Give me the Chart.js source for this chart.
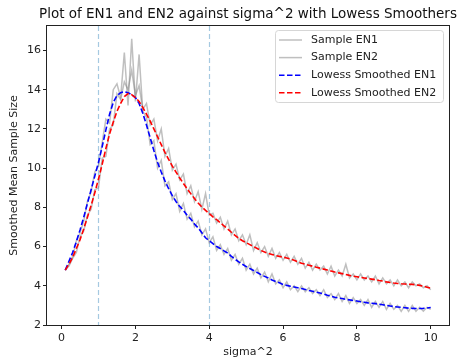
<!DOCTYPE html>
<html>
<head>
<meta charset="utf-8">
<script src="https://cdn.jsdelivr.net/npm/chart.js@4.4.1/dist/chart.umd.min.js"></script>
<style>
  html, body { margin: 0; padding: 0; background: #fff; }
  #wrap { width: 457px; height: 359px; }
</style>
</head>
<body>
<div id="wrap"><canvas id="graf"></canvas></div>
<script>
// sigma^2 grid
const sigmaSq = [0.1,0.2,0.3,0.4,0.5,0.6,0.7,0.8,0.9,1.0,
  1.1,1.2,1.3,1.4,1.5,1.6,1.7,1.8,1.9,2.0,
  2.1,2.2,2.3,2.4,2.5,2.6,2.7,2.8,2.9,3.0,
  3.1,3.2,3.3,3.4,3.5,3.6,3.7,3.8,3.9,4.0,
  4.1,4.2,4.3,4.4,4.5,4.6,4.7,4.8,4.9,5.0,
  5.1,5.2,5.3,5.4,5.5,5.6,5.7,5.8,5.9,6.0,
  6.1,6.2,6.3,6.4,6.5,6.6,6.7,6.8,6.9,7.0,
  7.1,7.2,7.3,7.4,7.5,7.6,7.7,7.8,7.9,8.0,
  8.1,8.2,8.3,8.4,8.5,8.6,8.7,8.8,8.9,9.0,
  9.1,9.2,9.3,9.4,9.5,9.6,9.7,9.8,9.9,10.0]

const sampleEN1 = [4.8,5.1,5.5,6.3,6.7,7.3,8.3,8.8,9.8,10.1,
  11.3,12.5,12.3,14.0,14.3,13.6,15.9,13.2,16.6,13.4,
  15.8,12.9,12.6,11.2,11.4,10.0,10.4,9.1,9.3,8.4,
  8.7,7.8,8.2,7.4,7.7,7.0,7.3,6.6,6.9,6.2,
  6.5,5.8,6.1,5.6,5.9,5.3,5.6,5.1,5.4,4.8,
  5.1,4.6,4.9,4.4,4.7,4.2,4.6,4.1,4.3,3.9,
  4.2,3.8,4.0,3.7,4.0,3.7,3.9,3.6,3.8,3.5,
  3.8,3.4,3.6,3.3,3.6,3.2,3.5,3.1,3.4,3.1,
  3.3,3.0,3.3,2.9,3.2,2.9,3.2,2.8,3.1,2.8,
  3.0,2.7,3.0,2.7,3.0,2.7,2.9,2.7,2.9,2.8]

const sampleEN2 = [4.8,5.0,5.4,5.7,6.5,6.8,7.6,7.9,8.9,9.0,
  10.5,10.6,12.0,12.2,13.8,13.5,14.4,14.0,15.0,13.7,
  14.2,13.0,13.3,12.2,12.5,11.4,12.0,10.6,11.0,9.9,
  10.2,9.4,9.7,8.7,9.1,8.3,8.8,7.9,8.7,7.6,
  7.7,7.2,7.5,6.9,7.3,6.6,6.9,6.3,6.6,6.1,
  6.6,5.8,6.2,5.7,6.0,5.5,5.9,5.4,5.7,5.3,
  5.6,5.2,5.5,5.1,5.4,4.9,5.2,4.8,5.1,4.8,
  5.0,4.6,5.0,4.5,4.8,4.5,5.1,4.4,4.6,4.3,
  4.6,4.3,4.5,4.2,4.5,4.1,4.4,4.1,4.3,4.0,
  4.3,4.0,4.2,3.9,4.2,4.0,4.1,3.9,4.0,3.8]

const lowessEN1 = [4.8,5.25,5.7,6.25,6.85,7.5,8.2,8.9,9.6,10.3,
  11.1,11.95,12.75,13.35,13.7,13.85,13.9,13.85,13.75,13.6,
  13.3,12.8,12.2,11.55,10.9,10.3,9.8,9.35,8.95,8.6,
  8.3,8.05,7.85,7.6,7.4,7.15,6.95,6.7,6.45,6.3,
  6.15,6.0,5.9,5.78,5.67,5.5,5.35,5.22,5.1,4.98,
  4.88,4.78,4.68,4.57,4.48,4.4,4.3,4.22,4.15,4.07,
  4.02,3.98,3.94,3.9,3.86,3.81,3.76,3.72,3.68,3.63,
  3.58,3.52,3.47,3.42,3.38,3.35,3.31,3.28,3.25,3.22,
  3.19,3.16,3.13,3.11,3.09,3.06,3.03,3.0,2.97,2.94,
  2.92,2.9,2.88,2.86,2.85,2.84,2.84,2.85,2.87,2.89]

const lowessEN2 = [4.8,5.1,5.45,5.9,6.35,6.9,7.5,8.1,8.75,9.45,
  10.2,11.0,11.75,12.35,12.9,13.3,13.65,13.8,13.75,13.6,
  13.4,13.1,12.75,12.4,12.0,11.6,11.2,10.8,10.45,10.1,
  9.8,9.5,9.22,8.95,8.7,8.45,8.22,8.02,7.85,7.68,
  7.52,7.37,7.22,7.05,6.9,6.73,6.57,6.42,6.3,6.2,
  6.1,6.0,5.9,5.8,5.72,5.65,5.6,5.54,5.5,5.46,
  5.42,5.36,5.3,5.22,5.15,5.1,5.05,5.0,4.95,4.9,
  4.85,4.8,4.75,4.7,4.66,4.62,4.58,4.53,4.49,4.46,
  4.43,4.4,4.37,4.34,4.31,4.27,4.24,4.2,4.17,4.14,
  4.12,4.1,4.09,4.08,4.07,4.05,4.02,3.98,3.93,3.88]

const xTicks = [0, 2, 4, 6, 8, 10]
const yTicks = [2, 4, 6, 8, 10, 12, 14, 16]
const vLines = [1, 4]

const FONT = "'DejaVu Sans', sans-serif"

function pts(ys) {
  return sigmaSq.map((x, i) => ({ x: x, y: ys[i] }))
}

// frame, title, dashed verticals, legend
const extras = {
  id: 'extras',
  beforeDatasetsDraw(chart) {
    const ctx = chart.ctx
    const a = chart.chartArea
    const xs = chart.scales.x
    ctx.save()
    ctx.strokeStyle = 'rgba(31,119,180,0.4)'
    ctx.lineWidth = 1.2
    ctx.setLineDash([5, 3])
    vLines.forEach(v => {
      const px = Math.round(xs.getPixelForValue(v)) + 0.5
      ctx.beginPath()
      ctx.moveTo(px, a.top)
      ctx.lineTo(px, a.bottom)
      ctx.stroke()
    })
    ctx.restore()
  },
  afterDraw(chart) {
    const ctx = chart.ctx
    const a = chart.chartArea
    ctx.save()
    // frame
    ctx.strokeStyle = '#222'
    ctx.lineWidth = 1
    ctx.strokeRect(Math.round(a.left) - 0.5, Math.round(a.top) - 0.5,
      Math.round(a.right - a.left) + 1, Math.round(a.bottom - a.top) + 1)
    // title
    ctx.fillStyle = '#111'
    ctx.font = '13.5px ' + FONT
    ctx.textAlign = 'center'
    ctx.textBaseline = 'middle'
    ctx.fillText('Plot of EN1 and EN2 against sigma^2 with Lowess Smoothers', (a.left + a.right) / 2, 14)
    // legend
    const bx = 275, by = 30, bw = 168, bh = 72
    ctx.fillStyle = 'rgba(255,255,255,0.8)'
    ctx.strokeStyle = '#d6d6d6'
    ctx.lineWidth = 1
    ctx.beginPath()
    ctx.roundRect(bx + 0.5, by + 0.5, bw, bh, 3)
    ctx.fill()
    ctx.stroke()
    const items = [chart.data.datasets[3], chart.data.datasets[2], chart.data.datasets[1], chart.data.datasets[0]]
    ctx.font = '11px ' + FONT
    ctx.textAlign = 'left'
    items.forEach((ds, i) => {
      const y = 40 + i * 17.6
      ctx.strokeStyle = ds.borderColor
      ctx.lineWidth = ds.borderWidth
      ctx.setLineDash(ds.borderDash || [])
      ctx.beginPath()
      ctx.moveTo(279, y)
      ctx.lineTo(302, y)
      ctx.stroke()
      ctx.setLineDash([])
      ctx.fillStyle = '#222'
      ctx.fillText(ds.label, 311, y)
    })
    ctx.restore()
  }
}

const graf = document.getElementById('graf')
const myChart = new Chart(graf, {
  type: 'line',
  data: {
    datasets: [
      { label: 'Lowess Smoothed EN2', data: pts(lowessEN2), borderColor: '#ff0000', borderWidth: 1.6, borderDash: [5.5, 2.5], order: 0 },
      { label: 'Lowess Smoothed EN1', data: pts(lowessEN1), borderColor: '#0000ff', borderWidth: 1.6, borderDash: [5.5, 2.5], order: 1 },
      { label: 'Sample EN2', data: pts(sampleEN2), borderColor: 'rgba(128,128,128,0.5)', borderWidth: 1.5, order: 2 },
      { label: 'Sample EN1', data: pts(sampleEN1), borderColor: 'rgba(128,128,128,0.5)', borderWidth: 1.5, order: 3 }
    ]
  },
  options: {
    responsive: true,
    maintainAspectRatio: false,
    animation: false,
    layout: { padding: { top: 26, right: 8, left: 0, bottom: 0 } },
    elements: { point: { radius: 0 }, line: { tension: 0, fill: false } },
    plugins: {
      legend: { display: false },
      title: { display: false },
      tooltip: { enabled: false }
    },
    scales: {
      x: {
        type: 'linear',
        min: -0.395,
        max: 10.495,
        afterBuildTicks: s => { s.ticks = xTicks.map(v => ({ value: v })) },
        afterFit: s => { s.height = 34 },
        grid: { display: true, drawOnChartArea: false, drawTicks: true, tickLength: 4, color: '#222' },
        border: { display: false },
        ticks: { color: '#222', padding: 3, maxRotation: 0, font: { family: FONT, size: 11 } },
        title: { display: true, text: 'sigma^2', color: '#222', padding: { top: 0, bottom: 0 }, font: { family: FONT, size: 11 } }
      },
      y: {
        type: 'linear',
        min: 2,
        max: 17.25,
        afterBuildTicks: s => { s.ticks = yTicks.map(v => ({ value: v })) },
        afterFit: s => { s.width = 47 },
        grid: { display: true, drawOnChartArea: false, drawTicks: true, tickLength: 4, color: '#222' },
        border: { display: false },
        ticks: { color: '#222', padding: 2, font: { family: FONT, size: 11 } },
        title: { display: true, text: 'Smoothed Mean Sample Size', color: '#222', padding: { top: 8, bottom: 0 }, font: { family: FONT, size: 11 } }
      }
    }
  },
  plugins: [extras]
})
</script>
</body>
</html>
